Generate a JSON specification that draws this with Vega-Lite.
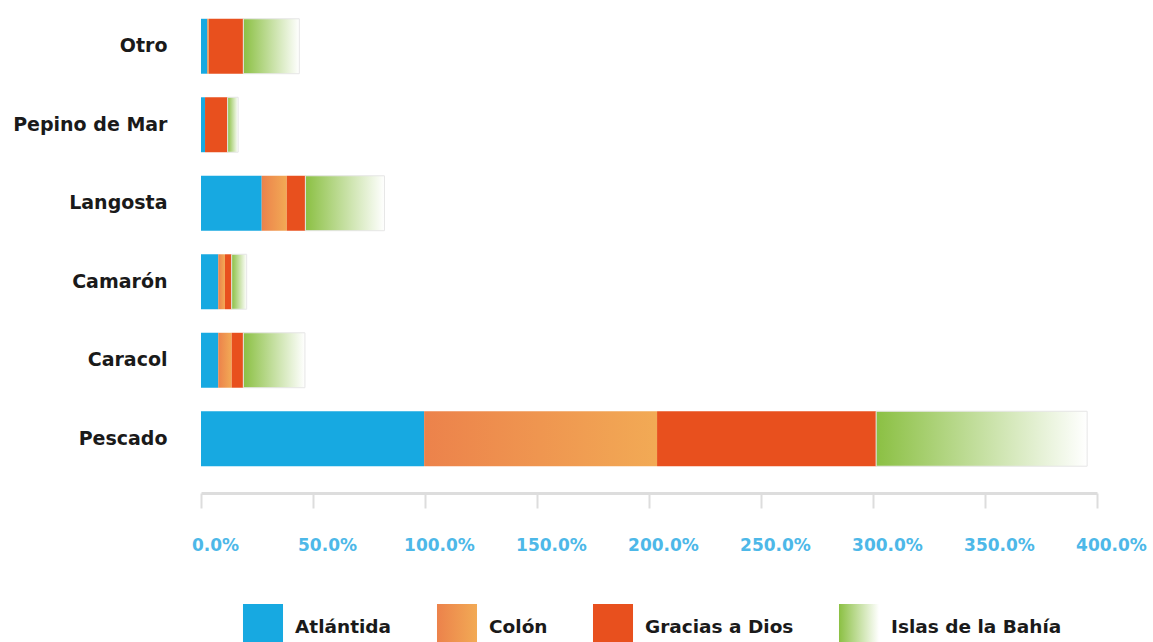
{
  "$schema": "https://vega.github.io/schema/vega-lite/v6.json",
  "width": 896,
  "height": 471,
  "autosize": "none",
  "padding": {"left": 201, "top": 7, "right": 56, "bottom": 164},
  "background": "white",
  "config": {"view": {"stroke": null}, "font": "DejaVu Sans"},
  "data": {
    "values": [
      {"cat": "Otro", "dep": "Atlántida", "o": 1, "v": 0.028},
      {"cat": "Otro", "dep": "Colón", "o": 2, "v": 0.007},
      {"cat": "Otro", "dep": "Gracias a Dios", "o": 3, "v": 0.154},
      {"cat": "Otro", "dep": "Islas de la Bahía", "o": 4, "v": 0.25},
      {"cat": "Pepino de Mar", "dep": "Atlántida", "o": 1, "v": 0.018},
      {"cat": "Pepino de Mar", "dep": "Colón", "o": 2, "v": 0.0},
      {"cat": "Pepino de Mar", "dep": "Gracias a Dios", "o": 3, "v": 0.101},
      {"cat": "Pepino de Mar", "dep": "Islas de la Bahía", "o": 4, "v": 0.047},
      {"cat": "Langosta", "dep": "Atlántida", "o": 1, "v": 0.271},
      {"cat": "Langosta", "dep": "Colón", "o": 2, "v": 0.112},
      {"cat": "Langosta", "dep": "Gracias a Dios", "o": 3, "v": 0.083},
      {"cat": "Langosta", "dep": "Islas de la Bahía", "o": 4, "v": 0.353},
      {"cat": "Camarón", "dep": "Atlántida", "o": 1, "v": 0.077},
      {"cat": "Camarón", "dep": "Colón", "o": 2, "v": 0.03},
      {"cat": "Camarón", "dep": "Gracias a Dios", "o": 3, "v": 0.03},
      {"cat": "Camarón", "dep": "Islas de la Bahía", "o": 4, "v": 0.067},
      {"cat": "Caracol", "dep": "Atlántida", "o": 1, "v": 0.077},
      {"cat": "Caracol", "dep": "Colón", "o": 2, "v": 0.06},
      {"cat": "Caracol", "dep": "Gracias a Dios", "o": 3, "v": 0.052},
      {"cat": "Caracol", "dep": "Islas de la Bahía", "o": 4, "v": 0.275},
      {"cat": "Pescado", "dep": "Atlántida", "o": 1, "v": 0.996},
      {"cat": "Pescado", "dep": "Colón", "o": 2, "v": 1.04},
      {"cat": "Pescado", "dep": "Gracias a Dios", "o": 3, "v": 0.978},
      {"cat": "Pescado", "dep": "Islas de la Bahía", "o": 4, "v": 0.942}
    ]
  },
  "mark": {"type": "bar", "strokeWidth": 1},
  "encoding": {
    "y": {
      "field": "cat",
      "type": "nominal",
      "sort": ["Otro", "Pepino de Mar", "Langosta", "Camarón", "Caracol", "Pescado"],
      "scale": {"paddingInner": 0.3, "paddingOuter": 0.15},
      "axis": {
        "title": null,
        "domain": false,
        "ticks": false,
        "labelPadding": 34,
        "labelFontSize": 19,
        "labelFontWeight": "bold",
        "labelColor": "#1a1a1a",
        "labelFont": "DejaVu Sans"
      }
    },
    "x": {
      "field": "v",
      "type": "quantitative",
      "stack": "zero",
      "scale": {"domain": [0, 4], "nice": false},
      "axis": {
        "title": null,
        "format": ".1%",
        "values": [0, 0.5, 1, 1.5, 2, 2.5, 3, 3.5, 4],
        "grid": false,
        "offset": 15,
        "domainColor": "#dddddd",
        "domainWidth": 3,
        "tickColor": "#dddddd",
        "tickWidth": 2,
        "tickSize": 15,
        "labelPadding": 29,
        "labelFlush": false,
        "labelOffset": 14,
        "labelFontSize": 17,
        "labelFontWeight": "bold",
        "labelColor": "#4db8e8",
        "labelFont": "DejaVu Sans"
      }
    },
    "order": {"field": "o", "type": "quantitative"},
    "stroke": {
      "condition": {"test": "datum.dep === 'Islas de la Bahía'", "value": "#e6e6e6"},
      "value": null
    },
    "color": {
      "field": "dep",
      "type": "nominal",
      "scale": {
        "domain": ["Atlántida", "Colón", "Gracias a Dios", "Islas de la Bahía"],
        "range": [
          "#17a9e1",
          {"expr": "{gradient: 'linear', x1: 0, y1: 0, x2: 1, y2: 0, stops: [{offset: 0, color: '#ec824b'}, {offset: 1, color: '#f2aa55'}]}"},
          "#e8501e",
          {"expr": "{gradient: 'linear', x1: 0, y1: 0, x2: 1, y2: 0, stops: [{offset: 0, color: '#8bc043'}, {offset: 1, color: '#ffffff'}]}"}
        ]
      },
      "legend": {
        "title": null,
        "orient": "none",
        "legendX": 39,
        "legendY": 597,
        "direction": "horizontal",
        "symbolType": "M-0.87,-1H0.87V1H-0.87Z",
        "symbolSize": 2116,
        "symbolStrokeWidth": 0,
        "symbolOpacity": 1,
        "labelFontSize": 18.5,
        "labelFontWeight": "bold",
        "labelColor": "#1a1a1a",
        "labelFont": "DejaVu Sans",
        "labelOffset": 9,
        "labelLimit": 300,
        "columnPadding": 42
      }
    }
  }
}
